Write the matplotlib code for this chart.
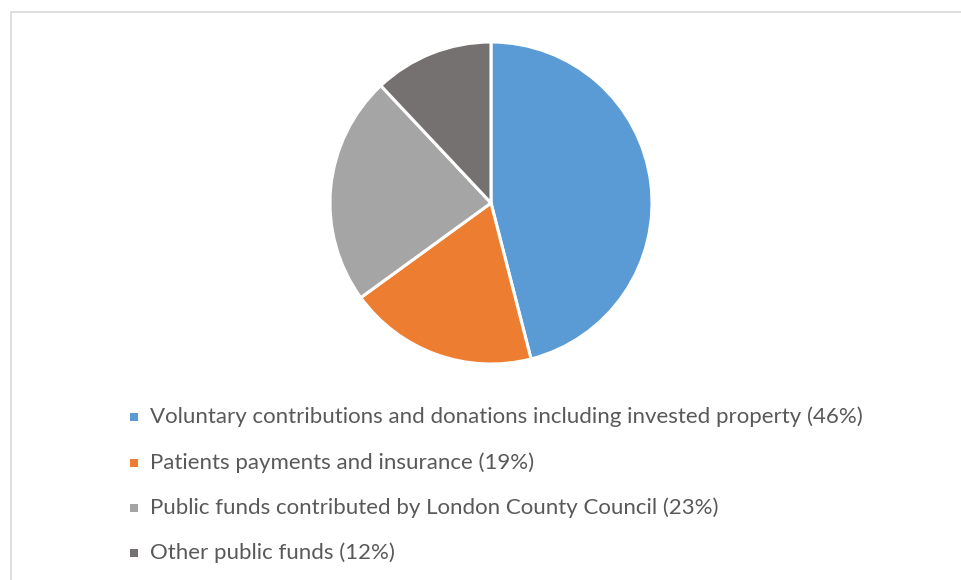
import matplotlib
matplotlib.use("Agg")
import matplotlib.pyplot as plt
from matplotlib.patches import Rectangle

labels = [
    "Voluntary contributions and donations including invested property (46%)",
    "Patients payments and insurance (19%)",
    "Public funds contributed by London County Council (23%)",
    "Other public funds (12%)",
]
values = [46, 19, 23, 12]
colors = ["#5B9BD5", "#ED7D31", "#A5A5A5", "#767171"]

W, H = 962, 580
fig = plt.figure(figsize=(W / 100, H / 100), dpi=100)
fig.patch.set_facecolor("white")

# chart border
fig.add_artist(Rectangle((10.5 / W, -0.05), 1.1, (H - 11.5) / H + 0.05,
                         transform=fig.transFigure, fill=False,
                         edgecolor="#D9D9D9", linewidth=1.2))

cx, cy, r = 491, 203, 161
ax = fig.add_axes([(cx - r) / W, (H - cy - r) / H, 2 * r / W, 2 * r / H])
ax.pie(values, colors=colors, startangle=90, counterclock=False, radius=1,
       wedgeprops=dict(edgecolor="white", linewidth=2.2))
ax.set_xlim(-1, 1)
ax.set_ylim(-1, 1)
ax.set_aspect("equal")
ax.axis("off")

row_y = [417, 463, 508, 553]
for lab, col, y in zip(labels, colors, row_y):
    fig.add_artist(Rectangle((130 / W, (H - y - 4) / H), 8 / W, 8 / H,
                             transform=fig.transFigure, facecolor=col,
                             edgecolor="none"))
    fig.text(150 / W, (H - y) / H, lab, fontsize=16, color="#595959",
             va="center", ha="left", family="Lato")

fig.savefig("out.png", dpi=100)
